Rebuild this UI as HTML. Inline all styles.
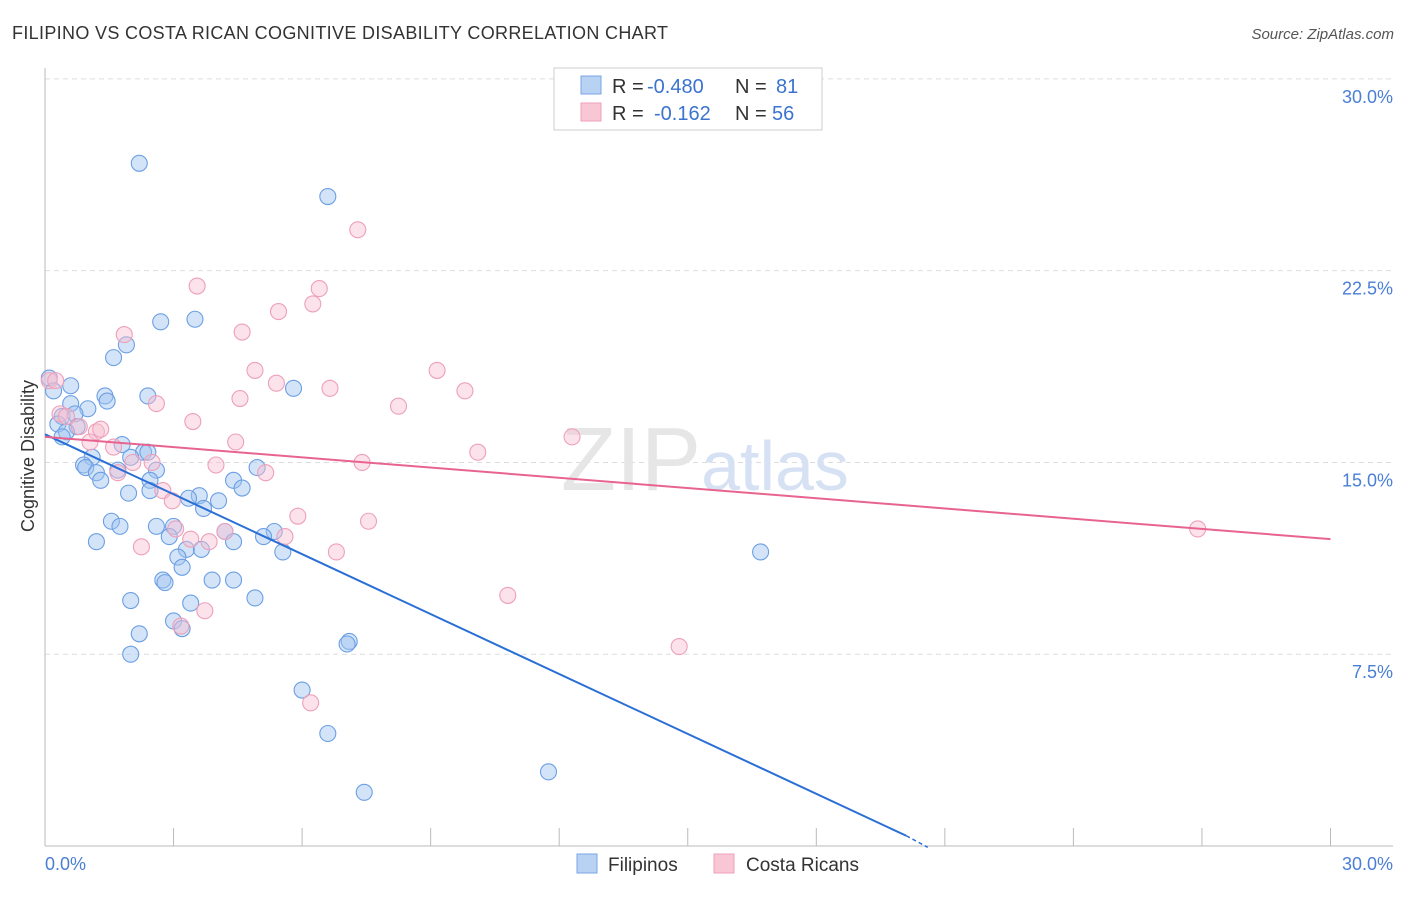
<!DOCTYPE html>
<html><head><meta charset="utf-8"><style>
body{margin:0;background:#fff;font-family:"Liberation Sans",sans-serif;}
svg text{font-family:"Liberation Sans",sans-serif;}
</style></head><body>
<svg id="chart" width="1406" height="892">
<text x="12" y="39" font-size="18" fill="#333" textLength="656">FILIPINO VS COSTA RICAN COGNITIVE DISABILITY CORRELATION CHART</text>
<text x="1394" y="39" font-size="15" fill="#555" font-style="italic" text-anchor="end">Source: ZipAtlas.com</text>
<g id="grid"></g>
<text x="705" y="490" font-size="90" fill="#e6e6e6" text-anchor="middle" font-family="Liberation Serif">ZIP<tspan fill="#d6e2f4" font-family="Liberation Sans" font-size="70">atlas</tspan></text>
<line x1="45" y1="68" x2="45" y2="846" stroke="#bbb"/>
<line x1="45" y1="846" x2="1393" y2="846" stroke="#bbb"/>
<text x="34" y="456" font-size="18" fill="#333" text-anchor="middle" transform="rotate(-90 34 456)">Cognitive Disability</text>
<text x="45" y="870" font-size="18" fill="#4a7fd4">0.0%</text>
<text x="1393" y="870" font-size="18" fill="#4a7fd4" text-anchor="end">30.0%</text>
<g id="points"></g>
<g id="lines"></g>
<g>
<rect x="554" y="68" width="268" height="62" fill="#fff" stroke="#ccc"/>
<rect x="581" y="76" width="20" height="18" fill="#b8d2f4" stroke="#7aa6e4"/>
<rect x="581" y="103" width="20" height="18" fill="#f9c6d6" stroke="#eea0b8"/>
<text x="612" y="93" font-size="20" fill="#333">R =</text>
<text x="647" y="93" font-size="20" fill="#3b73cf">-0.480</text>
<text x="735" y="93" font-size="20" fill="#333">N =</text>
<text x="776" y="93" font-size="20" fill="#3b73cf">81</text>
<text x="612" y="120" font-size="20" fill="#333">R =</text>
<text x="654" y="120" font-size="20" fill="#3b73cf">-0.162</text>
<text x="735" y="120" font-size="20" fill="#333">N =</text>
<text x="772" y="120" font-size="20" fill="#3b73cf">56</text>
</g>
<g>
<rect x="577" y="854" width="20" height="19" fill="#b8d2f4" stroke="#7aa6e4"/>
<text x="608" y="871" font-size="19" fill="#333">Filipinos</text>
<rect x="714" y="854" width="20" height="19" fill="#f9c6d6" stroke="#eea0b8"/>
<text x="746" y="871" font-size="19" fill="#333">Costa Ricans</text>
</g>
</svg>
<script>
const yTicks=[7.5,15,22.5,30];
const yTickLabels=["7.5%","15.0%","22.5%","30.0%"];
const xTicks=[0,3,6,9,12,15,18,21,24,27,30];
const blueX=[2.2,6.6,2.7,3.5,1.9,1.6,0.1,0.2,0.6,5.8,1.4,1.45,2.4,1.0,0.6,0.4,0.3,0.7,0.75,0.5,0.4,1.8,2.3,1.1,0.9,0.95,1.2,1.3,1.7,2.0,2.6,2.45,2.45,1.95,3.6,3.35,3.7,4.05,4.4,4.6,4.95,1.55,1.75,2.6,3.0,2.9,4.2,4.4,5.35,5.1,1.2,3.3,3.65,3.1,5.55,3.2,2.75,2.8,3.9,4.4,2.0,3.4,4.9,3.0,3.2,2.2,7.1,7.05,2.0,6.0,6.6,7.45,11.75,16.7,2.4];
const blueY=[26.7,25.4,20.5,20.6,19.6,19.1,18.3,17.8,18.0,17.9,17.6,17.4,17.6,17.1,17.3,16.8,16.5,16.9,16.4,16.2,16.0,15.7,15.4,15.2,14.9,14.8,14.6,14.3,14.7,15.2,14.7,14.3,13.9,13.8,13.7,13.6,13.2,13.5,14.3,14.0,14.8,12.7,12.5,12.5,12.5,12.1,12.3,11.9,12.3,12.1,11.9,11.6,11.6,11.3,11.5,10.9,10.4,10.3,10.4,10.4,9.6,9.5,9.7,8.8,8.5,8.3,8.0,7.9,7.5,6.1,4.4,2.1,2.9,11.5,15.4];
const pinkX=[7.3,3.55,6.4,5.45,6.25,1.85,4.6,9.15,4.9,5.4,6.65,9.8,2.6,4.55,8.25,3.45,0.35,0.5,0.8,1.2,1.05,1.3,1.6,4.45,12.3,10.1,7.4,3.99,5.15,2.5,2.05,1.7,2.75,2.97,5.9,7.55,3.05,4.2,5.6,3.4,3.83,2.25,6.8,10.8,3.73,3.17,14.8,6.2,26.9,0.1,0.25];
const pinkY=[24.1,21.9,21.8,20.9,21.2,20.0,20.1,18.6,18.6,18.1,17.9,17.8,17.3,17.5,17.2,16.6,16.9,16.8,16.4,16.2,15.8,16.3,15.6,15.8,16.0,15.4,15.0,14.9,14.6,15.0,15.0,14.6,13.9,13.5,12.9,12.7,12.4,12.3,12.1,12.0,11.9,11.7,11.5,9.8,9.2,8.6,7.8,5.6,12.4,18.2,18.2];
const blueLine=[16.1,0.4];
const pinkLine=[16.0,12.0];
const x=v=>45+v*42.85, y=v=>846-v*25.57;
const NS="http://www.w3.org/2000/svg";
function mk(t,a,p){const e=document.createElementNS(NS,t);for(const k in a)e.setAttribute(k,a[k]);document.getElementById(p).appendChild(e);return e;}
yTicks.forEach((v,i)=>{
 const l=mk('line',{x1:45,x2:1393,y1:y(v),y2:y(v),stroke:'#ddd','stroke-dasharray':'5,4'},'grid');
 
 
 const t=mk('text',{x:1393,y:y(v)+24,'font-size':18,fill:'#4a7fd4','text-anchor':'end'},'grid');
 t.textContent=yTickLabels[i];
 
 
});
xTicks.forEach(v=>{
 const l=mk('line',{x1:x(v),x2:x(v),y1:828,y2:846,stroke:'#bbb'},'grid');
 
 
});
blueX.forEach((v,i)=>{
 const c=mk('circle',{cx:x(v),cy:y(blueY[i]),r:8,fill:'rgba(160,195,240,0.45)',stroke:'#6b9fe4','stroke-width':1.1},'points');
 
 
});
pinkX.forEach((v,i)=>{
 const c=mk('circle',{cx:x(v),cy:y(pinkY[i]),r:8,fill:'rgba(248,190,208,0.45)',stroke:'#eda0ba','stroke-width':1.1},'points');
 
 
});
const bl=mk('line',{x1:x(0),y1:y(blueLine[0]),x2:x(20.1),y2:y(blueLine[1]),stroke:'#2a6fd6','stroke-width':2},'lines');


const bd=mk('line',{x1:x(20.1),y1:y(blueLine[1]),x2:x(20.6),y2:y(-0.05),stroke:'#2a6fd6','stroke-width':1.5,'stroke-dasharray':'4,3'},'lines');


const pl=mk('line',{x1:x(0),y1:y(pinkLine[0]),x2:x(30),y2:y(pinkLine[1]),stroke:'#e8648f','stroke-width':2},'lines');


</script>
</body></html>
